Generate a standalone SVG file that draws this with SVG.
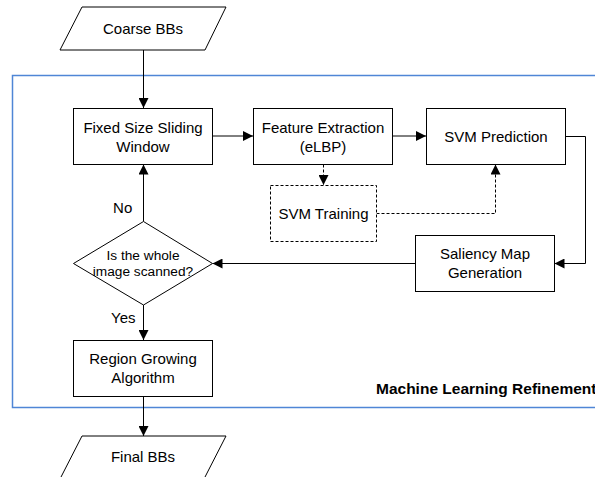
<svg xmlns="http://www.w3.org/2000/svg" width="595" height="477" viewBox="0 0 595 477">
<defs>
<marker id="ah" markerUnits="userSpaceOnUse" markerWidth="10" markerHeight="10" refX="10" refY="5" orient="auto">
<path d="M0,0 L10,5 L0,10 z" fill="#000"/>
</marker>
</defs>
<style>
.n{fill:#fff;stroke:#000;stroke-width:1}
.d{fill:#fff;stroke:#000;stroke-width:1;stroke-dasharray:3,2}
.t{font-family:"Liberation Sans",Arial,sans-serif;font-size:15px;fill:#000;text-anchor:middle}
.s{font-size:13.7px}
.c{fill:none;stroke:#000;stroke-width:1}
.cd{fill:none;stroke:#000;stroke-width:1;stroke-dasharray:3,2}
</style>
<rect id="container" x="12.5" y="75.5" width="600" height="332" fill="none" stroke="#4f86d6" stroke-width="1.5"/>
<text class="t" x="376" y="394" style="text-anchor:start;font-weight:bold;font-size:15.5px">Machine Learning Refinement</text>
<g id="connectors">
<path class="c" d="M143.5,50 V108" marker-end="url(#ah)"/>
<path class="c" d="M212.5,136 H253" marker-end="url(#ah)"/>
<path class="c" d="M392.5,136 H426" marker-end="url(#ah)"/>
<path class="c" d="M565.5,136.5 H585.5 V263.5 H554.5" marker-end="url(#ah)"/>
<path class="c" d="M415,263.5 H212.5" marker-end="url(#ah)"/>
<path class="c" d="M143.5,221.5 V164.5" marker-end="url(#ah)"/>
<path class="c" d="M143.5,305 V340" marker-end="url(#ah)"/>
<path class="c" d="M143.5,396 V436" marker-end="url(#ah)"/>
<path class="cd" d="M323.5,164.5 V185" marker-end="url(#ah)"/>
<path class="cd" d="M376.5,213.5 H495.5 V164.5" marker-end="url(#ah)"/>
<text class="t" x="122.7" y="212.7">No</text>
<text class="t" x="123.3" y="323.3">Yes</text>
</g>
<g id="coarse">
<polygon class="n" points="82,7 226,7 205,50 60,50"/>
<text class="t" x="143" y="33.5">Coarse BBs</text>
</g>
<g id="sliding">
<rect class="n" x="73.5" y="108.5" width="139" height="56"/>
<text class="t" x="143" y="132.7">Fixed Size Sliding</text>
<text class="t" x="143" y="151.7">Window</text>
</g>
<g id="feature">
<rect class="n" x="253.5" y="108.5" width="139" height="56"/>
<text class="t" x="323" y="132.7">Feature Extraction</text>
<text class="t" x="323" y="151.7">(eLBP)</text>
</g>
<g id="svmpred">
<rect class="n" x="426.5" y="108.5" width="139" height="56"/>
<text class="t" x="496" y="141.6">SVM Prediction</text>
</g>
<g id="svmtrain">
<rect class="d" x="270.5" y="185.5" width="106" height="56"/>
<text class="t" x="323.5" y="219">SVM Training</text>
</g>
<g id="saliency">
<rect class="n" x="415.5" y="235.5" width="139" height="56"/>
<text class="t" x="485" y="259.4">Saliency Map</text>
<text class="t" x="485" y="277.8">Generation</text>
</g>
<g id="decision">
<polygon class="n" points="143.5,221.5 212.5,263.5 143.5,305 73.5,263.5"/>
<text class="t s" x="143" y="259.8">Is the whole</text>
<text class="t s" x="143" y="275.8">image scanned?</text>
</g>
<g id="region">
<rect class="n" x="73.5" y="340.5" width="139" height="56"/>
<text class="t" x="143" y="364.4">Region Growing</text>
<text class="t" x="143" y="383">Algorithm</text>
</g>
<g id="final">
<polygon class="n" points="82,436 226,436 204,479 60,479"/>
<text class="t" x="143" y="461.7">Final BBs</text>
</g>
</svg>
